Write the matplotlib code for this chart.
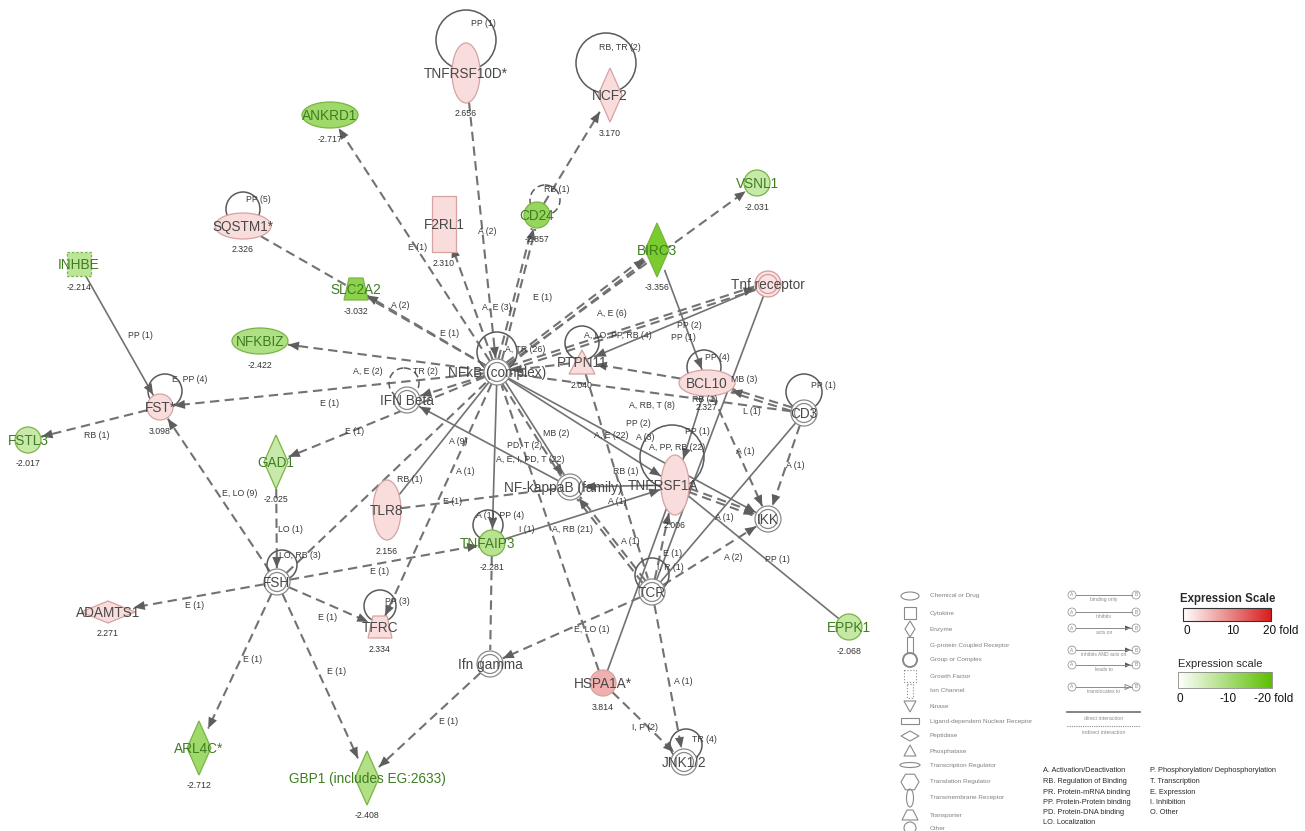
import numpy as np
import matplotlib.pyplot as plt
from matplotlib.patches import Ellipse, Circle, Polygon, Rectangle, RegularPolygon
from matplotlib.colors import LinearSegmentedColormap

plt.rcParams['font.family'] = ['Liberation Sans', 'DejaVu Sans']

# molecules of the network (fold change, nan = group / complex without value)
node_ids = ["TNFRSF10D", "NCF2", "ANKRD1", "SQSTM1", "F2RL1", "CD24", "VSNL1", "BIRC3",
            "Tnf receptor", "INHBE", "SLC2A2", "NFKBIZ", "NFkB", "IFN Beta", "PTPN11",
            "BCL10", "CD3", "FST", "FSTL3", "GAD1", "TLR8", "NFkB family", "TNFRSF1A",
            "IKK", "TNFAIP3", "FSH", "ADAMTS1", "TFRC", "TCR", "EPPK1", "Ifn gamma",
            "HSPA1A", "ARL4C", "GBP1", "JNK"]
node_text = ["TNFRSF10D*", "NCF2", "ANKRD1", "SQSTM1*", "F2RL1", "CD24", "VSNL1", "BIRC3",
             "Tnf receptor", "INHBE", "SLC2A2", "NFKBIZ", "NFkB (complex)", "IFN Beta", "PTPN11",
             "BCL10", "CD3", "FST*", "FSTL3", "GAD1", "TLR8", "NF-kappaB (family)", "TNFRSF1A",
             "IKK", "TNFAIP3", "FSH", "ADAMTS1", "TFRC", "TCR", "EPPK1", "Ifn gamma",
             "HSPA1A*", "ARL4C*", "GBP1 (includes EG:2633)", "JNK1/2"]
node_shape = ["ellipse_v", "diamond", "ellipse_h", "ellipse_h", "rect_v", "circle", "circle", "diamond",
              "group", "square_dash", "trap", "ellipse_h", "group", "group", "triangle",
              "ellipse_h", "group", "circle", "circle", "diamond", "ellipse_v", "group", "ellipse_v",
              "group", "circle", "group", "hdiamond", "trap", "group", "circle", "group",
              "circle", "diamond", "diamond", "group"]
node_fold = [2.656, 3.170, -2.717, 2.326, 2.310, -2.857, -2.031, -3.356,
             np.nan, -2.214, -3.032, -2.422, np.nan, np.nan, 2.040,
             2.327, np.nan, 3.098, -2.017, -2.025, 2.156, np.nan, 2.006,
             np.nan, -2.281, np.nan, 2.271, 2.334, np.nan, -2.068, np.nan,
             3.814, -2.712, -2.408, np.nan]

# layout of the drawing (pixels of the original figure)
node_x = [466, 610, 330, 243, 444, 537, 757, 657, 768, 79, 356, 260, 497, 407, 582,
          707, 804, 160, 28, 276, 387, 570, 675, 768, 492, 277, 108, 380, 652, 849, 490,
          603, 199, 367, 684]
node_y = [73, 95, 115, 226, 224, 215, 183, 250, 284, 264, 289, 341, 372, 400, 362,
          383, 413, 407, 440, 462, 510, 487, 485, 519, 543, 582, 612, 627, 592, 627, 664,
          683, 748, 778, 762]
label_dx = {"TNFRSF1A": -12, "NFkB family": -7, "TNFAIP3": -5}

# relationships: source, target, line type, label, label position
relations = [
    ("NFkB", "ANKRD1", "d", "E (1)", 418, 247),
    ("TNFRSF10D", "NFkB", "d", "A (2)", 487, 232),
    ("NFkB", "F2RL1", "d", "A, E (3)", 497, 308),
    ("NFkB", "CD24", "dd", "E (1)", 543, 297),
    ("CD24", "NCF2", "d", "", 0, 0),
    ("NFkB", "BIRC3", "dd", "", 0, 0),
    ("NFkB", "VSNL1", "d", "", 0, 0),
    ("NFkB", "SLC2A2", "d", "A (2)", 400, 306),
    ("SQSTM1", "NFkB", "dn", "E (1)", 450, 333),
    ("NFkB", "NFKBIZ", "d", "", 0, 0),
    ("NFkB", "FST", "d", "E (1)", 330, 403),
    ("NFkB", "IFN Beta", "d", "A, E (2)", 368, 371),
    ("NFkB", "GAD1", "d", "E (1)", 355, 432),
    ("FSH", "NFkB", "dn", "", 0, 0),
    ("NFkB", "TLR8", "sn", "RB (1)", 410, 480),
    ("NFkB", "TNFAIP3", "s", "A, E, I, PD, T (22)", 530, 460),
    ("NFkB", "NFkB family", "sd", "MB (2)", 556, 433),
    ("NFkB", "TNFRSF1A", "s", "A, E (22)", 611, 436),
    ("NFkB", "IKK", "s", "A, RB, T (8)", 652, 405),
    ("NFkB", "Tnf receptor", "dd", "A, E (6)", 612, 314),
    ("PTPN11", "NFkB", "d", "", 0, 0),
    ("Tnf receptor", "PTPN11", "s", "PP (1)", 683, 338),
    ("BIRC3", "BCL10", "s", "PP (2)", 689, 325),
    ("BCL10", "PTPN11", "d", "", 0, 0),
    ("CD3", "BCL10", "dd", "MB (3)", 744, 380),
    ("CD3", "NFkB", "dn", "L (1)", 752, 411),
    ("BCL10", "TNFRSF1A", "s", "PP (1)", 697, 432),
    ("BCL10", "IKK", "d", "A (1)", 745, 452),
    ("CD3", "IKK", "d", "A (1)", 795, 466),
    ("CD3", "TCR", "sn", "", 0, 0),
    ("Tnf receptor", "TCR", "sn", "", 0, 0),
    ("TNFRSF1A", "IKK", "dd", "A (1)", 724, 518),
    ("TNFRSF1A", "EPPK1", "sn", "PP (1)", 777, 560),
    ("TCR", "IKK", "d", "A (2)", 733, 558),
    ("TCR", "TNFRSF1A", "d", "E (1)", 673, 553),
    ("HSPA1A", "TNFRSF1A", "sn", "", 0, 0),
    ("HSPA1A", "NFkB", "dn", "", 0, 0),
    ("HSPA1A", "JNK", "d", "I, P (2)", 645, 727),
    ("TCR", "JNK", "d", "A (1)", 683, 682),
    ("TCR", "Ifn gamma", "d", "E, LO (1)", 592, 630),
    ("TCR", "NFkB family", "dd", "A (1)", 630, 542),
    ("PTPN11", "TCR", "dn", "", 0, 0),
    ("TNFRSF1A", "NFkB family", "s", "RB (1)", 626, 471),
    ("TNFAIP3", "TNFRSF1A", "s", "A, RB (21)", 572, 530),
    ("TNFAIP3", "Ifn gamma", "dn", "", 0, 0),
    ("TLR8", "NFkB family", "dn", "E (1)", 453, 502),
    ("NFkB family", "IFN Beta", "s", "", 0, 0),
    ("INHBE", "FST", "s", "PP (1)", 140, 335),
    ("FST", "FSTL3", "d", "RB (1)", 97, 436),
    ("FSH", "FST", "d", "E, LO (9)", 240, 494),
    ("GAD1", "FSH", "d", "LO (1)", 290, 529),
    ("FSH", "ADAMTS1", "d", "E (1)", 195, 605),
    ("FSH", "TFRC", "d", "E (1)", 328, 618),
    ("FSH", "TNFAIP3", "d", "E (1)", 380, 572),
    ("FSH", "ARL4C", "d", "E (1)", 253, 659),
    ("FSH", "GBP1", "d", "E (1)", 337, 672),
    ("Ifn gamma", "GBP1", "d", "E (1)", 449, 721),
    ("NFkB", "TFRC", "d", "A (1)", 465, 471),
]
extra_labels = [("PD, T (2)", 525, 445), ("A (1)", 617, 502), ("I (1)", 527, 529),
                ("A (9)", 458, 441), ("RB (1)", 705, 399), ("A (3)", 645, 437),
                ("PP (2)", 638, 424)]

# self relations: node, label, loop centre, radius, label position, dashed
loops = [
    ("TNFRSF10D", "PP (1)", 466, 40, 30, 483, 23, False),
    ("NCF2", "RB, TR (2)", 606, 63, 30, 620, 47, False),
    ("SQSTM1", "PP (5)", 243, 209, 17, 258, 200, False),
    ("CD24", "RB (1)", 545, 200, 15, 557, 189, True),
    ("FST", "E, PP (4)", 165, 391, 17, 190, 380, False),
    ("NFkB", "A, TR (26)", 497, 352, 20, 525, 349, False),
    ("IFN Beta", "TR (2)", 404, 383, 15, 425, 372, True),
    ("PTPN11", "A, LO, PP, RB (4)", 582, 343, 17, 618, 335, False),
    ("BCL10", "PP (4)", 704, 367, 17, 717, 357, False),
    ("CD3", "PP (1)", 804, 392, 18, 823, 386, False),
    ("TNFRSF1A", "A, PP, RB (22)", 672, 457, 32, 677, 447, False),
    ("TNFAIP3", "A (1), PP (4)", 488, 525, 15, 500, 516, False),
    ("FSH", "LO, RB (3)", 282, 565, 15, 300, 555, False),
    ("TFRC", "PP (3)", 380, 606, 16, 397, 601, False),
    ("TCR", "I, R (1)", 652, 575, 17, 670, 568, False),
    ("JNK", "TR (4)", 686, 745, 16, 704, 740, False),
]

shape_legend = ["Chemical or Drug", "Cytokine", "Enzyme", "G-protein Coupled Receptor",
                "Group or Complex", "Growth Factor", "Ion Channel", "Kinase",
                "Ligand-dependent Nuclear Receptor", "Peptidase", "Phosphatase",
                "Transcription Regulator", "Translation Regulator", "Transmembrane Receptor",
                "Transporter", "Other"]
arrow_legend = ["binding only", "inhibits", "acts on", "inhibits AND acts on", "leads to", "translocates to"]
abbrev_col1 = ["A. Activation/Deactivation", "RB. Regulation of Binding", "PR. Protein-mRNA binding",
               "PP. Protein-Protein binding", "PD. Protein-DNA binding", "LO. Localization"]
abbrev_col2 = ["P. Phosphorylation/ Dephosphorylation", "T. Transcription", "E. Expression",
               "I. Inhibition", "O. Other"]
red_ticks = ["0", "10", "20 fold"]
green_ticks = ["0", "-10", "-20 fold"]

red_cmap = LinearSegmentedColormap.from_list("up", ["#ffffff", "#d81e1e"])
green_cmap = LinearSegmentedColormap.from_list("down", ["#ffffff", "#5cbf00"])

HALF = {"ellipse_h": (28, 13), "ellipse_v": (14, 30), "circle": (13, 13), "diamond": (12, 27),
        "hdiamond": (27, 11), "rect_v": (12, 28), "square_dash": (12, 12), "trap": (12, 11),
        "triangle": (13, 12), "group": (13, 13)}

pos = {n: (x, y) for n, x, y in zip(node_ids, node_x, node_y)}
idx = {n: i for i, n in enumerate(node_ids)}

fig = plt.figure(figsize=(13.05, 8.31), dpi=100)
ax = fig.add_axes([0, 0, 1, 1])
ax.set_xlim(0, 1305)
ax.set_ylim(831, 0)
ax.axis("off")

LINE = "#727272"
DASH = (0, (4.5, 2.6))


def fold_color(v):
    if v > 0:
        return red_cmap(0.15 + max(0, v - 3.2) * 0.33)
    return green_cmap(min(1, 0.33 + (abs(v) - 2) * 0.36))


def reach(name, ux, uy):
    a, b = HALF[node_shape[idx[name]]]
    return a * b / np.hypot(b * ux, a * uy)


def head(ex, ey, ux, uy, size=11, width=4.5):
    px, py = -uy, ux
    pts = [(ex, ey), (ex - ux * size + px * width, ey - uy * size + py * width),
           (ex - ux * size - px * width, ey - uy * size - py * width)]
    ax.add_patch(Polygon(pts, closed=True, fc="#5e5e5e", ec="none", zorder=2.5))


for s, d, kind, lab, lx, ly in relations:
    x0, y0 = pos[s]
    x1, y1 = pos[d]
    L = np.hypot(x1 - x0, y1 - y0)
    ux, uy = (x1 - x0) / L, (y1 - y0) / L
    r0, r1 = reach(s, ux, uy), reach(d, ux, uy) + 1
    sx, sy, ex, ey = x0 + ux * r0, y0 + uy * r0, x1 - ux * r1, y1 - uy * r1
    if kind in ("dd", "sd"):
        offs = [-1.8, 1.8]
    else:
        offs = [0]
    for k, o in enumerate(offs):
        solid = kind.startswith("s") and not (kind == "sd" and k == 1)
        ax.plot([sx - uy * o, ex - uy * o], [sy + ux * o, ey + ux * o], color=LINE,
                lw=1.2 if solid else 1.5, ls="-" if solid else DASH, zorder=1)
    if not kind.endswith("n"):
        head(ex, ey, ux, uy)
    if lab:
        ax.text(lx, ly, lab, fontsize=6.3, color="#3a3a3a", ha="center", va="center", zorder=4)

for lab, lx, ly in extra_labels:
    ax.text(lx, ly, lab, fontsize=6.3, color="#3a3a3a", ha="center", va="center", zorder=4)

for n, lab, cx, cy, r, lx, ly, dashed in loops:
    ax.add_patch(Circle((cx, cy), r, fill=False, ec="#5a5a5a", lw=1.1,
                        ls=DASH if dashed else "-", zorder=1.5))
    ax.text(lx, ly, lab, fontsize=6.3, color="#3a3a3a", ha="center", va="center", zorder=4)

for n, txt, shp, v, x, y in zip(node_ids, node_text, node_shape, node_fold, node_x, node_y):
    a, b = HALF[shp]
    if np.isnan(v):
        fc = "#fbe3e3" if n == "Tnf receptor" else "white"
        ec = "#d59a9a" if n == "Tnf receptor" else "#8a8a8a"
    else:
        fc = fold_color(v)
        ec = "#d6a2a2" if v > 0 else "#79b446"
    kw = dict(fc=fc, ec=ec, lw=0.9, zorder=3)
    if shp in ("ellipse_h", "ellipse_v"):
        ax.add_patch(Ellipse((x, y), 2 * a, 2 * b, **kw))
    elif shp == "circle":
        ax.add_patch(Circle((x, y), a, **kw))
    elif shp == "group":
        ax.add_patch(Circle((x, y), a, **kw))
        ax.add_patch(Circle((x, y), a - 3.5, fill=False, ec=ec, lw=0.9, zorder=3))
    elif shp in ("diamond", "hdiamond"):
        ax.add_patch(Polygon([(x, y - b), (x + a, y), (x, y + b), (x - a, y)], **kw))
    elif shp == "rect_v":
        ax.add_patch(Rectangle((x - a, y - b), 2 * a, 2 * b, **kw))
    elif shp == "square_dash":
        ax.add_patch(Rectangle((x - a, y - b), 2 * a, 2 * b, ls=(0, (2, 1.5)), **kw))
    elif shp == "trap":
        ax.add_patch(Polygon([(x - 7, y - b), (x + 7, y - b), (x + a, y + b), (x - a, y + b)], **kw))
    elif shp == "triangle":
        ax.add_patch(Polygon([(x, y - b), (x + a, y + b), (x - a, y + b)], **kw))
    tc = "#3e7d22" if (not np.isnan(v) and v < 0) else "#484848"
    ax.text(x + label_dx.get(n, 0), y + 1, txt, fontsize=9.8, color=tc, ha="center", va="center",
            zorder=5)
    if not np.isnan(v):
        ax.text(x, y + b + 11, f"{v:.3f}", fontsize=6.3, color="#333333", ha="center", va="center",
                zorder=5)

# ---- legend: molecule shapes ----
ly_rows = [596, 613, 629, 645, 660, 676, 691, 706, 721, 736, 751, 765, 782, 798, 815, 828]
ix = 910
lk = dict(fill=False, ec="#8a8a8a", lw=0.8)
icons = [
    Ellipse((ix, ly_rows[0]), 18, 8, **lk),
    Rectangle((ix - 6, ly_rows[1] - 6), 12, 12, **lk),
    Polygon([(ix, ly_rows[2] - 8), (ix + 5, ly_rows[2]), (ix, ly_rows[2] + 8), (ix - 5, ly_rows[2])], **lk),
    Rectangle((ix - 3, ly_rows[3] - 8), 6, 16, **lk),
    Circle((ix, ly_rows[4]), 7, fill=False, ec="#8a8a8a", lw=1.4),
    Rectangle((ix - 6, ly_rows[5] - 6), 12, 12, ls=":", **lk),
    Rectangle((ix - 3, ly_rows[6] - 7), 6, 14, ls=":", **lk),
    Polygon([(ix - 6, ly_rows[7] - 5), (ix + 6, ly_rows[7] - 5), (ix, ly_rows[7] + 6)], **lk),
    Rectangle((ix - 9, ly_rows[8] - 3), 18, 6, **lk),
    Polygon([(ix - 9, ly_rows[9]), (ix, ly_rows[9] - 5), (ix + 9, ly_rows[9]), (ix, ly_rows[9] + 5)], **lk),
    Polygon([(ix, ly_rows[10] - 6), (ix + 6, ly_rows[10] + 5), (ix - 6, ly_rows[10] + 5)], **lk),
    Ellipse((ix, ly_rows[11]), 20, 5, **lk),
    RegularPolygon((ix, ly_rows[12]), 6, radius=9, orientation=np.pi / 2, **lk),
    Ellipse((ix, ly_rows[13]), 7, 18, **lk),
    Polygon([(ix - 3, ly_rows[14] - 5), (ix + 3, ly_rows[14] - 5), (ix + 8, ly_rows[14] + 5),
             (ix - 8, ly_rows[14] + 5)], **lk),
    Circle((ix, ly_rows[15]), 6, **lk),
]
for p, lab, yy in zip(icons, shape_legend, ly_rows):
    ax.add_patch(p)
    ax.text(930, yy, lab, fontsize=4.6, color="#808080", va="center")

# ---- legend: relation types ----
ar_rows = [595, 612, 628, 650, 665, 687]
for k, (lab, yy) in enumerate(zip(arrow_legend, ar_rows)):
    for xx, t in ((1072, "A"), (1136, "B")):
        ax.add_patch(Circle((xx, yy), 4, fill=False, ec="#9a9a9a", lw=0.6))
        ax.text(xx, yy, t, fontsize=3.5, color="#8a8a8a", ha="center", va="center")
    ax.plot([1076, 1132], [yy, yy], color="#8a8a8a", lw=0.7)
    if k in (2, 3, 4):
        ax.add_patch(Polygon([(1131, yy), (1125, yy - 2.5), (1125, yy + 2.5)], fc="#555555", ec="none"))
    if k == 5:
        ax.add_patch(Polygon([(1131, yy), (1125, yy - 2.5), (1125, yy + 2.5)], fill=False, ec="#777777", lw=0.6))
    ax.text(1104, yy + 4.5, lab, fontsize=3.6, color="#8a8a8a", ha="center", va="center")
ax.plot([1067, 1140], [712, 712], color="#7a7a7a", lw=1.3)
ax.text(1104, 719, "direct interaction", fontsize=3.8, color="#8a8a8a", ha="center", va="center")
ax.plot([1067, 1140], [726, 726], color="#8a8a8a", lw=0.8, ls=(0, (1, 1)))
ax.text(1104, 732, "indirect interaction", fontsize=3.8, color="#8a8a8a", ha="center", va="center")

# ---- legend: abbreviations ----
ab_rows = [771, 781.5, 792, 802, 812, 822]
for lab, yy in zip(abbrev_col1, ab_rows):
    ax.text(1043, yy, lab, fontsize=5.3, color="#2a2a2a", va="center")
for lab, yy in zip(abbrev_col2, ab_rows):
    ax.text(1150, yy, lab, fontsize=5.3, color="#2a2a2a", va="center")

# ---- expression scales ----
grad = np.linspace(0, 1, 256)[None, :]
ax.text(1180, 599, "Expression Scale", fontsize=8.3, fontweight="bold", color="#2a2a2a", va="center")
ax.imshow(grad, cmap=red_cmap, extent=(1183, 1271, 621, 608), aspect="auto", zorder=1)
ax.add_patch(Rectangle((1183, 608), 88, 13, fill=False, ec="#333333", lw=0.8))
for lab, xx in zip(red_ticks, [1187, 1233, 1281]):
    ax.text(xx, 631, lab, fontsize=8.5, color="#111111", ha="center", va="center")

ax.text(1178, 664, "Expression scale", fontsize=8, color="#2a2a2a", va="center")
ax.imshow(grad, cmap=green_cmap, extent=(1178, 1272, 688, 672), aspect="auto", zorder=1)
ax.add_patch(Rectangle((1178, 672), 94, 16, fill=False, ec="#888888", lw=0.6))
for lab, xx in zip(green_ticks, [1180, 1228, 1274]):
    ax.text(xx, 699, lab, fontsize=8.5, color="#111111", ha="center", va="center")

ax.set_xlim(0, 1305)
ax.set_ylim(831, 0)

fig.savefig("out.png", dpi=100, facecolor="white")
